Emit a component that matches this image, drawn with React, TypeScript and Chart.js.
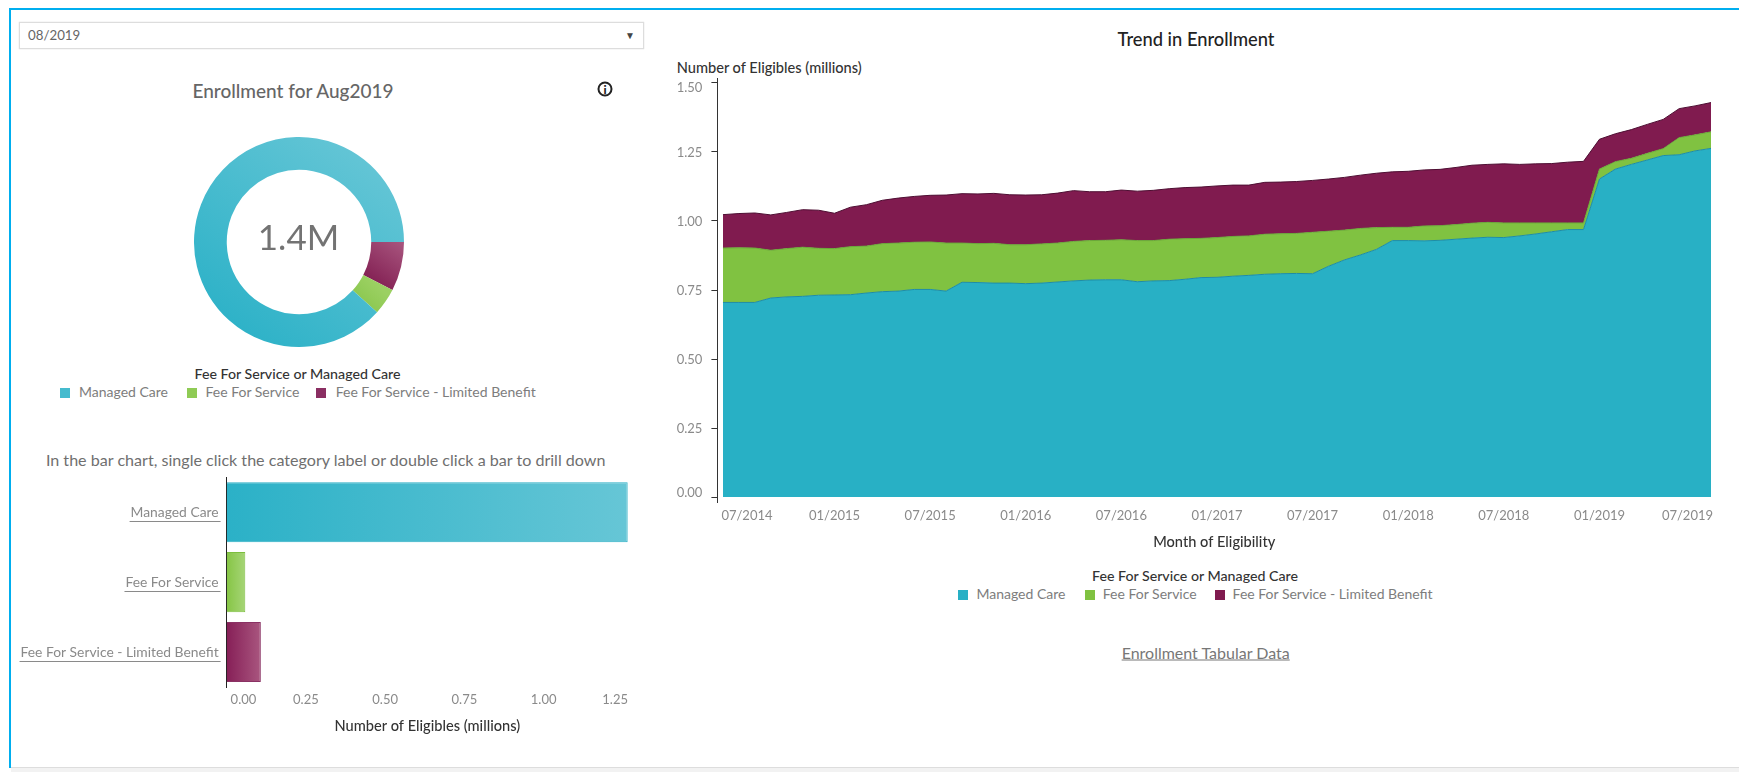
import React, { useEffect, useRef } from "react";
import { Chart, registerables } from "chart.js";

Chart.register(...registerables);

const FONT = "Lato, 'Open Sans', sans-serif";

// ---------- data ----------
const seriesNames = ["Managed Care", "Fee For Service", "Fee For Service - Limited Benefit"];
const seriesColors = ["#28B0C5", "#80C241", "#801B4F"];
const seriesLines = ["#1E8DA6", "#6BA83A", "#4E0F33"];

const currentValues = [1.265, 0.059, 0.108];

const trendMonths = [
  "06/2014","07/2014","08/2014","09/2014","10/2014","11/2014","12/2014",
  "01/2015","02/2015","03/2015","04/2015","05/2015","06/2015","07/2015","08/2015","09/2015","10/2015","11/2015","12/2015",
  "01/2016","02/2016","03/2016","04/2016","05/2016","06/2016","07/2016","08/2016","09/2016","10/2016","11/2016","12/2016",
  "01/2017","02/2017","03/2017","04/2017","05/2017","06/2017","07/2017","08/2017","09/2017","10/2017","11/2017","12/2017",
  "01/2018","02/2018","03/2018","04/2018","05/2018","06/2018","07/2018","08/2018","09/2018","10/2018","11/2018","12/2018",
  "01/2019","02/2019","03/2019","04/2019","05/2019","06/2019","07/2019","08/2019",
];

const managedCare = [
  0.705,0.705,0.705,0.721,0.725,0.727,0.731,0.732,0.733,0.739,0.744,0.746,0.752,0.752,0.746,0.778,
  0.777,0.775,0.775,0.773,0.775,0.779,0.783,0.786,0.787,0.787,0.780,0.783,0.784,0.789,0.795,0.796,
  0.800,0.803,0.807,0.809,0.810,0.809,0.836,0.859,0.877,0.897,0.929,0.929,0.928,0.930,0.934,0.938,
  0.941,0.940,0.946,0.953,0.961,0.969,0.969,1.152,1.188,1.205,1.221,1.237,1.240,1.254,1.263,
];
const feeForService = [
  0.197,0.198,0.197,0.173,0.175,0.178,0.170,0.168,0.174,0.170,0.174,0.174,0.171,0.172,0.174,0.142,
  0.141,0.144,0.139,0.141,0.142,0.141,0.143,0.143,0.143,0.145,0.149,0.146,0.150,0.147,0.142,0.144,
  0.144,0.143,0.145,0.145,0.145,0.150,0.127,0.108,0.096,0.079,0.048,0.048,0.054,0.053,0.053,0.054,
  0.054,0.053,0.047,0.040,0.032,0.024,0.024,0.036,0.027,0.022,0.024,0.025,0.062,0.058,0.060,
];
const limitedBenefit = [
  0.121,0.124,0.127,0.128,0.131,0.136,0.138,0.128,0.143,0.150,0.157,0.163,0.166,0.169,0.174,0.179,
  0.180,0.181,0.181,0.180,0.178,0.181,0.184,0.177,0.176,0.180,0.179,0.182,0.183,0.185,0.186,0.187,
  0.186,0.184,0.188,0.187,0.188,0.188,0.189,0.191,0.193,0.197,0.201,0.203,0.203,0.204,0.207,0.210,
  0.210,0.214,0.212,0.214,0.215,0.220,0.223,0.108,0.101,0.104,0.105,0.106,0.105,0.105,0.106,
];

const trendYTicks = [0, 0.25, 0.5, 0.75, 1, 1.25, 1.5];
const barXTicks = [0, 0.25, 0.5, 0.75, 1, 1.25];

// ---------- plugins: tick labels kept inside the axis extent ----------
const clampedTicks = {
  id: "clampedTicks",
  afterDraw(chart: any, _a: any, opts: any) {
    const { ctx, chartArea } = chart;
    ctx.save();
    ctx.font = `13px ${FONT}`;
    ctx.fillStyle = "#8a8a8a";
    ctx.textBaseline = "middle";
    const x = chart.scales.x;
    ctx.textAlign = "center";
    for (const t of x.ticks) {
      const text = opts.xLabel(t.value);
      const w = ctx.measureText(text).width;
      const px = Math.min(Math.max(x.getPixelForValue(t.value), chartArea.left + 4 + w / 2), chartArea.right + opts.rightSlack - w / 2);
      ctx.fillText(text, px, chartArea.bottom + opts.xLabelGap);
    }
    if (opts.yLabels) {
      const y = chart.scales.y;
      ctx.textAlign = "right";
      for (const t of y.ticks) {
        const py = Math.min(Math.max(y.getPixelForValue(t.value) + 1, chartArea.top + 10), chartArea.bottom - 9);
        ctx.fillText(t.value.toFixed(2), chartArea.left - 15, py);
      }
    }
    ctx.restore();
  },
};

const underlinedCategories = {
  id: "underlinedCategories",
  afterDraw(chart: any) {
    const { ctx } = chart;
    const y = chart.scales.y;
    ctx.save();
    ctx.font = `13.85px ${FONT}`;
    ctx.strokeStyle = "#8a8a8a";
    ctx.lineWidth = 1;
    y.ticks.forEach((t: any, i: number) => {
      const w = ctx.measureText(seriesNames[i]).width;
      const py = Math.round(y.getPixelForTick(i) + 9) + 0.5;
      ctx.beginPath();
      ctx.moveTo(chart.chartArea.left - 8 - w - 1, py);
      ctx.lineTo(chart.chartArea.left - 6, py);
      ctx.stroke();
    });
    ctx.restore();
  },
};

// ---------- small HTML pieces ----------
const abs = (left: number, top: number, extra: any = {}) => ({ position: "absolute", left, top, whiteSpace: "nowrap", fontFamily: FONT, ...extra });
const centered = (cx: number, cy: number, extra: any = {}) => ({ ...abs(cx, cy, extra), transform: "translate(-50%,-50%)" });

function LegendRow({ y, swatches, labels, colors }: any) {
  return (
    <>
      {seriesNames.map((n, i) => (
        <React.Fragment key={n}>
          <div style={abs(swatches[i], y - 5, { width: 10, height: 10, background: colors[i] }) as any} />
          <div style={{ ...abs(labels[i], y - 1.5, { fontSize: 14, color: "#7d7d7d" }), transform: "translateY(-50%)" } as any}>{n}</div>
        </React.Fragment>
      ))}
    </>
  );
}

export default function App() {
  const donutRef = useRef<HTMLCanvasElement>(null);
  const barRef = useRef<HTMLCanvasElement>(null);
  const trendRef = useRef<HTMLCanvasElement>(null);

  useEffect(() => {
    // doughnut: clockwise from three o'clock: limited, fee for service, managed
    const donutData = [currentValues[2], currentValues[1], currentValues[0]];
    const donutStops = [
      ["#7F1B4F", "#A9567F"],
      ["#7FC141", "#9BD062"],
      ["#2BB1C7", "#66C6D6"],
    ];
    const donut = new Chart(donutRef.current as any, {
      type: "doughnut",
      data: {
        labels: [seriesNames[2], seriesNames[1], seriesNames[0]],
        datasets: [{
          data: donutData,
          borderWidth: 0,
          backgroundColor: (c: any) => {
            const i = c.dataIndex;
            if (i === undefined) return seriesColors[0];
            const width = c.chart.width || 210;
            const height = c.chart.height || 210;
            const ctx = c.chart.ctx;
            const g = i === 2
              ? ctx.createLinearGradient(width * 0.15, height * 0.95, width * 0.85, height * 0.05)
              : i === 1
                ? ctx.createLinearGradient(width * 0.78, height * 0.9, width * 0.92, height * 0.75)
                : ctx.createLinearGradient(width * 0.84, height * 0.72, width, height * 0.5);
            g.addColorStop(0, donutStops[i][0]);
            g.addColorStop(1, donutStops[i][1]);
            return g;
          },
        }],
      },
      options: {
        animation: false, responsive: false, rotation: 90, cutout: "68.8%",
        plugins: { legend: { display: false }, tooltip: { enabled: false } },
      } as any,
    });

    // horizontal bars
    const barStops = [
      ["#2BB1C7", "#66C6D6"],
      ["#86C545", "#A6D577"],
      ["#861F57", "#A9567F"],
    ];
    const bar = new Chart(barRef.current as any, {
      type: "bar",
      data: {
        labels: seriesNames,
        datasets: [{
          data: currentValues,
          barPercentage: 0.86,
          categoryPercentage: 1,
          borderWidth: 1,
          borderColor: ["#2AAEC4", "#7CBE3E", "#8A3264"],
          backgroundColor: (c: any) => {
            const { chart, dataIndex: i } = c;
            if (i === undefined) return seriesColors[0];
            const s = chart.scales.x;
            const x0 = s ? s.getPixelForValue(0) : NaN;
            const x1 = s ? s.getPixelForValue(currentValues[i]) : NaN;
            if (!Number.isFinite(x0) || !Number.isFinite(x1)) return seriesColors[i];
            const g = chart.ctx.createLinearGradient(x0, 0, x1, 0);
            g.addColorStop(0, barStops[i][0]);
            g.addColorStop(1, barStops[i][1]);
            return g;
          },
        }],
      },
      options: {
        indexAxis: "y", animation: false, responsive: false,
        layout: { padding: { top: 0.5, right: 12, left: 0, bottom: 0 } },
        plugins: {
          legend: { display: false }, tooltip: { enabled: false },
          clampedTicks: { xLabel: (v: number) => v.toFixed(2), rightSlack: 0, xLabelGap: 13, yLabels: false },
        },
        scales: {
          x: {
            type: "linear", min: 0, max: 1.266,
            grid: { display: false }, border: { display: false },
            ticks: { display: false },
            afterBuildTicks: (s: any) => { s.ticks = barXTicks.map((value) => ({ value })); },
            afterFit: (s: any) => { s.height = 53; },
            title: { display: true, text: "Number of Eligibles (millions)", color: "#333", font: { family: FONT, size: 14.6, weight: "500" }, padding: { top: 0, bottom: 5 } },
          },
          y: {
            type: "category",
            grid: { display: false }, border: { display: true, color: "#222", width: 1 },
            ticks: { color: "#8a8a8a", font: { family: FONT, size: 13.85 }, padding: 0 },
            afterFit: (s: any) => { s.width = 216.6; },
          },
        },
      } as any,
      plugins: [clampedTicks, underlinedCategories],
    });

    // stacked area trend
    const toPoints = (vals: number[]) => vals.map((y, x) => ({ x, y }));
    const trendTicks = trendMonths.map((m, i) => (m.startsWith("01/") || m.startsWith("07/") ? i : -1)).filter((i) => i >= 0);
    const trendSeries = [managedCare, feeForService, limitedBenefit];
    const trend = new Chart(trendRef.current as any, {
      type: "line",
      data: {
        datasets: trendSeries.map((vals, i) => ({
          label: seriesNames[i],
          data: toPoints(vals),
          backgroundColor: seriesColors[i],
          borderColor: seriesLines[i],
          borderWidth: 1,
          pointRadius: 0,
          tension: 0,
          fill: i === 0 ? "origin" : "-1",
        })),
      },
      options: {
        animation: false, responsive: false,
        layout: { padding: { top: 18, right: 9, left: 0, bottom: 0 } },
        plugins: {
          legend: { display: false }, tooltip: { enabled: false },
          clampedTicks: { xLabel: (v: number) => trendMonths[v], rightSlack: 2, xLabelGap: 14, yLabels: true },
        },
        scales: {
          x: {
            type: "linear", min: -0.35, max: trendMonths.length - 1,
            grid: { display: false }, border: { display: false },
            ticks: { display: false },
            afterBuildTicks: (s: any) => { s.ticks = trendTicks.map((value) => ({ value })); },
            afterFit: (s: any) => { s.height = 58; },
            title: { display: true, text: "Month of Eligibility", color: "#333", font: { family: FONT, size: 14.6, weight: "500" }, padding: { top: 0, bottom: 9 } },
          },
          y: {
            type: "linear", stacked: true, min: -0.018, max: 1.518,
            grid: { drawOnChartArea: false, drawTicks: true, tickLength: 6, color: "#333" },
            border: { display: true, color: "#333", width: 1 },
            ticks: { display: false },
            afterBuildTicks: (s: any) => { s.ticks = trendYTicks.map((value) => ({ value })); },
            afterFit: (s: any) => { s.width = 67.4; },
          },
        },
      } as any,
      plugins: [clampedTicks],
    });

    return () => { donut.destroy(); bar.destroy(); trend.destroy(); };
  }, []);

  return (
    <div style={{ position: "absolute", left: 0, top: 0, width: 1739, height: 772, overflow: "hidden", background: "#fff", fontFamily: FONT }}>
      {/* frame */}
      <div style={{ position: "absolute", left: 9, top: 8, right: -4, height: 2, background: "#00AEEF" }} />
      <div style={{ position: "absolute", left: 9, top: 8, width: 2, height: 760, background: "#00AEEF" }} />
      <div style={{ position: "absolute", left: 11, top: 767, right: 0, bottom: 0, background: "#F2F2F2", borderTop: "1px solid #DDD" }} />

      {/* selector */}
      <div style={{ position: "absolute", left: 19, top: 22, width: 623, height: 25, border: "1px solid #DDD", boxShadow: "0 0 1px #ccc" }} />
      <div style={{ ...abs(28, 35, { fontSize: 13.3, color: "#666" }), transform: "translateY(-50%)" } as any}>08/2019</div>
      <div style={centered(630, 35, { fontSize: 10, color: "#444" }) as any}>▼</div>

      {/* left header */}
      <div style={centered(293, 90, { fontSize: 19, fontWeight: 500, color: "#666" }) as any}>Enrollment for Aug2019</div>
      <div style={centered(605, 89, { width: 11, height: 11, border: "2px solid #222", borderRadius: "50%", fontSize: 12, fontWeight: 900, color: "#222", lineHeight: "11px", textAlign: "center" }) as any}>i</div>

      {/* doughnut */}
      <canvas ref={donutRef} width={210} height={210} style={{ position: "absolute", left: 193.5, top: 137 }} />
      <div style={centered(298.5, 236, { fontSize: 35, fontWeight: 400, color: "#737373" }) as any}>1.4M</div>

      <div style={centered(297.5, 373, { fontSize: 14.2, fontWeight: 500, color: "#333" }) as any}>Fee For Service or Managed Care</div>
      <LegendRow y={392.5} swatches={[59.5, 187, 316]} labels={[79, 205.5, 335.7]} colors={["#45BBCE", "#8FCB55", "#8A2E62"]} />

      <div style={centered(325.7, 458.5, { fontSize: 16.1, color: "#6f6f6f" }) as any}>In the bar chart, single click the category label or double click a bar to drill down</div>

      {/* bars */}
      <canvas ref={barRef} width={630} height={271} style={{ position: "absolute", left: 10, top: 469 }} />

      {/* trend */}
      <div style={centered(1196, 39, { fontSize: 18.3, fontWeight: 500, color: "#222" }) as any}>Trend in Enrollment</div>
      <div style={{ ...abs(676.7, 67, { fontSize: 14.6, fontWeight: 500, color: "#333" }), transform: "translateY(-50%)" } as any}>Number of Eligibles (millions)</div>
      <canvas ref={trendRef} width={1070} height={500} style={{ position: "absolute", left: 650, top: 60 }} />

      <div style={centered(1195, 574.7, { fontSize: 14.2, fontWeight: 500, color: "#333" }) as any}>Fee For Service or Managed Care</div>
      <LegendRow y={594.5} swatches={[957.5, 1084.7, 1214.5]} labels={[976.4, 1102.8, 1232.6]} colors={seriesColors} />

      <div style={centered(1205.7, 652, { fontSize: 16, color: "#777", textDecoration: "underline" }) as any}>Enrollment Tabular Data</div>
    </div>
  );
}
